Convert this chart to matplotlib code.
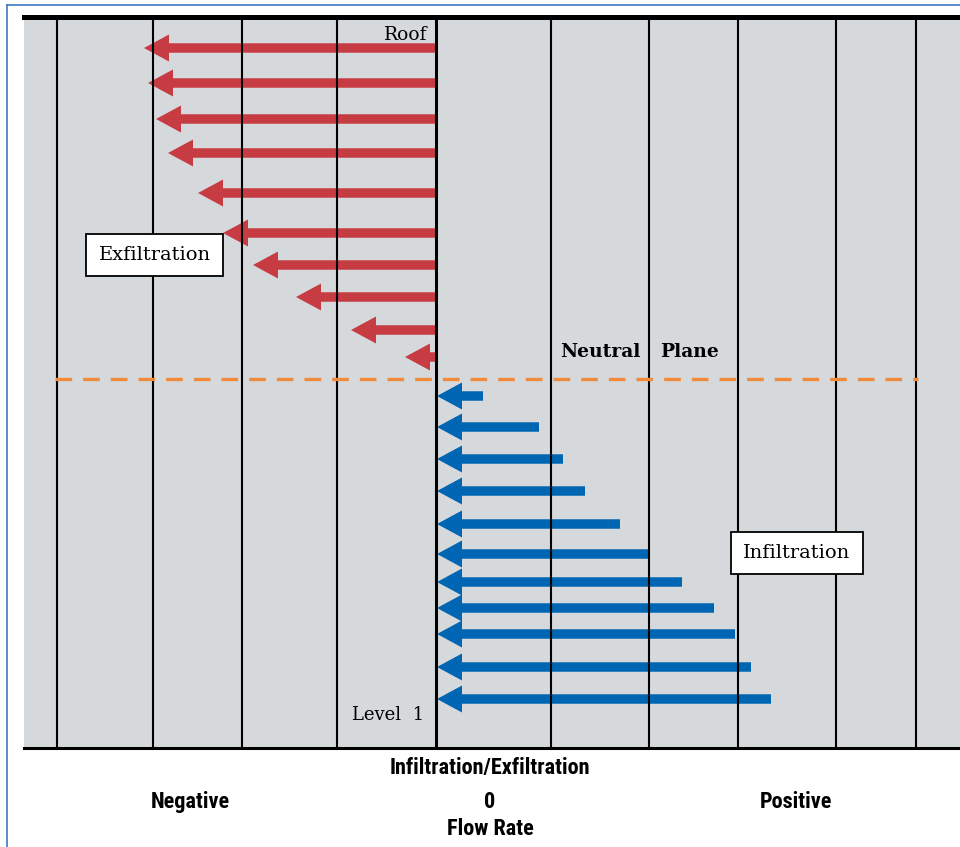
import matplotlib.pyplot as plt
from matplotlib.lines import Line2D

# flow rate units (negative = exfiltration) and height above floor
grid_x = [-37.9, -28.3, -19.4, -9.9, 0, 11.5, 21.3, 30.2, 40.0, 48.0]
exfil_height = [70.0, 66.5, 62.9, 59.5, 55.5, 51.5, 48.3, 45.1, 41.8, 39.1]
exfil_flow = [-29.2, -28.8, -28.0, -26.8, -23.8, -21.3, -18.3, -14.0, -8.5, -3.1]
infil_height = [35.2, 32.1, 28.9, 25.7, 22.4, 19.4, 16.6, 14.0, 11.4, 8.1, 4.9]
infil_flow = [4.7, 10.3, 12.7, 14.9, 18.4, 21.3, 24.6, 27.8, 29.9, 31.5, 33.5]
neutral_plane = 36.9

red = '#c73b43'
blue = '#0066b3'
serif = ['DejaVu Serif']
narrow = ['Roboto Condensed', 'Liberation Sans Narrow', 'Roboto', 'DejaVu Sans']

fig = plt.figure(figsize=(9.6, 8.47), dpi=100)
ax = fig.add_axes([24 / 960, 99 / 847, 936 / 960, 731 / 847])
ax.set_facecolor('#d6d9db')
ax.set_xlim(-41.2, 52.4)
ax.set_ylim(0, 73.1)
ax.set_xticks([])
ax.set_yticks([])
for s in ['left', 'right']:
    ax.spines[s].set_visible(False)
ax.spines['top'].set_linewidth(3.6)
ax.spines['bottom'].set_linewidth(2.2)

for gx in grid_x:
    ax.axvline(gx, color='black', lw=2.2 if gx == 0 else 1.5, zorder=4)

head = dict(width=0.95, head_width=2.7, head_length=2.5,
            length_includes_head=True, lw=0, zorder=3)
for h, f in zip(exfil_height, exfil_flow):
    ax.arrow(0.1, h, f - 0.1, 0, color=red, **head)
for h, f in zip(infil_height, infil_flow):
    ax.arrow(f, h, 0.1 - f, 0, color=blue, **head)

ax.plot([grid_x[0] - 0.2, grid_x[-1] + 0.2], [neutral_plane, neutral_plane],
        color='#f28a3c', lw=2.4, dashes=(5, 3.3), zorder=5)

ax.text(-0.9, 71.3, 'Roof', ha='right', va='center', fontsize=13.5, family=serif, zorder=6)
ax.text(-4.8, 3.3, 'Level  1', ha='center', va='center', fontsize=13, family=serif, zorder=6)
ax.text(12.4, 39.6, 'Neutral', ha='left', va='center', fontsize=13.5, weight='bold', family=serif, zorder=6)
ax.text(22.4, 39.6, 'Plane', ha='left', va='center', fontsize=13.5, weight='bold', family=serif, zorder=6)
box = dict(boxstyle='square,pad=0.62', fc='white', ec='black', lw=1.3)
ax.text(-28.15, 49.3, 'Exfiltration', ha='center', va='center', fontsize=14,
        family=serif, bbox=box, zorder=6)
ax.text(36.1, 19.5, 'Infiltration', ha='center', va='center', fontsize=14,
        family=serif, bbox=box, zorder=6)

lab = dict(ha='center', va='center', fontsize=16, weight='bold', family=narrow)
fig.text(490 / 960, 1 - 768 / 847, 'Infiltration/Exfiltration', **lab)
fig.text(190 / 960, 1 - 802 / 847, 'Negative', **lab)
fig.text(490 / 960, 1 - 802 / 847, '0', **lab)
fig.text(796 / 960, 1 - 802 / 847, 'Positive', **lab)
fig.text(490 / 960, 1 - 829 / 847, 'Flow Rate', **lab)

# thin blue frame around the figure panel
fig.add_artist(Line2D([7 / 960, 7 / 960], [0, 1 - 5 / 847], color='#3f78c2', lw=1.2))
fig.add_artist(Line2D([7 / 960, 1], [1 - 5 / 847, 1 - 5 / 847], color='#3f78c2', lw=1.2))

fig.savefig('out.png', dpi=100)
